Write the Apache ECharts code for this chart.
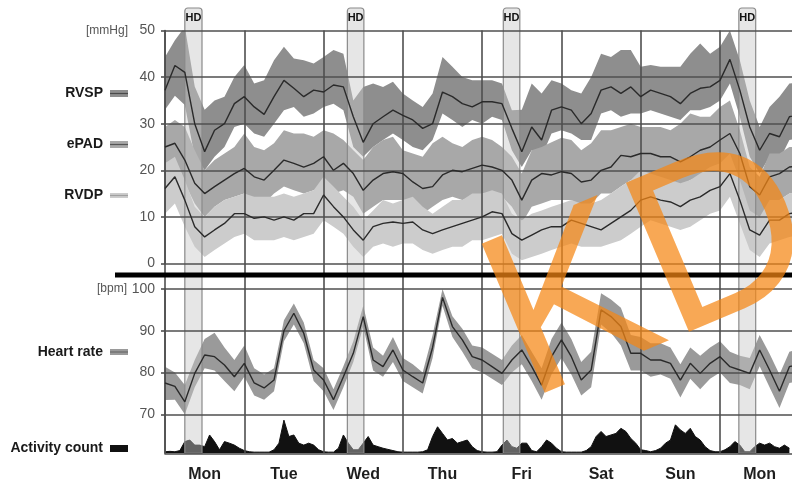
<!DOCTYPE html>
<html>
<head>
<meta charset="utf-8">
<script src="https://cdn.jsdelivr.net/npm/echarts@6.0.0/dist/echarts.min.js"></script>
<style>
  html, body { margin: 0; padding: 0; background: #fff; }
  #chart { width: 792px; height: 484px; }
</style>
</head>
<body>
<div id="chart"></div>
<script>
// Day labels along the bottom, one per 24 h column
const dayLabels = ['Mon', 'Tue', 'Wed', 'Thu', 'Fri', 'Sat', 'Sun', 'Mon'];

// Sample times (hours from Monday 00:00) for the pressure and heart-rate traces
const hours = [0,3,6,9,12,15,18,21,24,27,30,33,36,39,42,45,48,51,54,57,60,63,66,69,72,75,78,81,84,87,90,93,96,99,102,105,108,111,114,117,120,123,126,129,132,135,138,141,144,147,150,153,156,159,162,165,168,171,174,177,180,183,186,189,192];

// RV systolic pressure [mmHg]: median and band
const rvspMid  = [37.2,42.5,41,30,24,28.6,30,34.3,35.8,33.6,32,35.8,39.3,37.6,35.8,37.2,36.8,38.3,37.9,31.5,26,30,31.5,32.9,31.8,30.8,29,30,36.8,35.8,34.3,33.6,34.7,34.7,34.3,29,24,29.3,26.5,32.9,33.6,32.9,30,32.2,37.2,37.9,36.5,37.9,35.8,37.2,36.5,35.8,34.3,36.5,37.6,37.9,39.3,43.8,37.2,29.3,24.3,27.9,27.2,31.5,32];
const rvspHigh = [44.3,47.9,50.8,38,33,35,35.8,40,42.6,38.6,39.3,43.6,46.5,44,43.6,42.9,44.3,45.8,45,35,37.9,38.6,37.9,39,36.5,35,33.6,36.5,44.3,42.2,40,39.3,39.3,39.3,38.6,32.9,33,38.6,36.5,39.3,38.6,37.2,36.5,40,45,44.3,45.8,45.8,42.2,42.6,42.2,42.2,42.2,45,47.2,45,46.5,50,43.6,35,29.3,33.6,35.8,38.6,39];
const rvspLow  = [33,36,34,22.9,20,22.9,25,29.3,30,27.9,27.2,30,32.9,33.6,31.5,32.2,33.6,34.3,32.9,25,22.9,25,26.5,27.9,26.5,25,24.3,26.5,32.2,30.8,29.3,30.8,30,31.5,30.8,24.3,20.7,24.3,22.9,27.9,28.6,27.9,26.5,26.5,32.2,32.9,31.5,32.2,32.2,32.9,32.2,31.5,30.8,32.9,32.9,33.6,35,38.6,31.5,22.9,19.3,22.9,22.2,26.5,27];

// Estimated pulmonary artery diastolic pressure [mmHg]
const epadMid  = [25,25.8,22.2,17.2,15,16.5,17.9,19.3,20.4,18.6,17.9,20,22.2,21.5,20.7,21.5,22.9,20,21.5,19.3,15.7,17.9,19.3,19.7,19.3,17.5,16.1,16.5,19,20,19.7,20.4,21.1,20.7,20,17.9,13.6,17.9,19.3,19,19.7,19.3,17.5,17.9,20,20.7,23.2,22.9,23.6,23.6,22.9,22.9,21.8,22.9,24.3,25,26.5,27.9,23.6,16.5,14.7,18.6,19.3,20.7,21];
const epadHigh = [29.3,30.8,29.3,24.3,20,22.2,23.6,25,27.9,25,24.3,25.8,28.6,27.9,27.9,27.2,28.6,27.9,26.5,24.3,22.2,25,26.5,27.2,24.3,23.6,22.9,25.8,27.2,25.8,25,26.5,27.2,26.5,25,22.9,19.3,24.3,25,26,27,26.5,24.3,25.8,28.6,28.6,29.3,30,29.3,29.3,29.3,28.6,30,32.2,31.5,31.5,33.6,35,28.6,20.7,18.6,23.6,23.6,25,25];
const epadLow  = [20,21.5,17.2,12.9,10,12.2,13.6,14.3,15,13.6,12.9,15,16.5,15.7,15,15.7,16.5,15,15.7,14.3,10.7,12.2,13.6,13.6,13.6,12.2,10.7,12.2,13.6,14.3,13.6,14.3,15,15,14.3,12.2,8.6,12.2,12.9,13.6,13.6,13.6,12.2,12.9,15,15,16.5,17.9,16.5,17.9,16.5,17.2,16.5,17.9,18.6,19.3,20.7,22.2,16.5,10.7,8.6,12.9,13.6,15,15];

// RV diastolic pressure [mmHg]
const rvdpMid  = [16.1,18.6,13.6,7.9,5.7,7.2,8.6,10.7,10.7,9.7,10,9.3,10,9.3,10.7,10.7,14.7,12.2,10,7.2,5,7.9,8.6,8.9,8.6,8.9,7.2,6.4,7.2,7.9,8.6,9.3,10,11.1,10.7,6.4,5,6.1,7.2,7.9,7.9,9.3,8.6,7.9,7.2,8.6,10,11.4,13.6,14.3,13.6,13.2,12.2,13.6,14.3,15.7,16.5,19.3,13.6,7.2,6.1,9.3,9.3,10.7,11];
const rvdpHigh = [21.5,22.9,17.9,12.2,10,12.2,13.6,14.3,15,14.3,14.3,14.3,15,14.3,15,15.7,18.6,16.5,14.3,12.2,9.3,11.4,13.6,12.9,13.6,14.3,12.2,10.7,12.2,13.6,13.6,15,15,15.7,15,10.7,9.3,10.7,11.4,12.2,12.9,13.6,12.9,12.9,13.6,15,16.5,17.9,20,19.3,18.6,17.9,17.2,17.9,19.3,20.7,21.5,23.6,17.9,11.4,10,13.6,13.6,15,15];
const rvdpLow  = [10.7,12.9,7.9,3.6,1.4,2.9,4.3,5.7,6.4,5,5,5,5.7,5,5.7,6.4,9.3,7.9,6.4,3.6,1.4,3.6,4.3,3.6,4.3,4.3,2.9,2.1,2.9,3.6,3.6,5,5,5.7,6.4,2.1,0.7,1.4,2.1,2.9,3.6,4.3,3.6,3.6,3.6,4.3,5,6.4,7.9,9.3,8.6,7.9,7.2,7.9,9.3,10.7,11.4,14.3,8.6,2.9,1.4,4.3,5,5.7,6];

// Heart rate [bpm]
const hrMid  = [77.5,76.7,73,79.8,84.2,83.8,81.8,79,82.2,77.5,76.3,78.2,90,94.2,89.4,80.6,78.2,73.5,79,84.6,93.4,83,81.4,85.4,80.6,79,77.5,86,98,91,87.8,83.8,83,81.4,79.8,83,85.4,81.4,77,83.8,87.8,83.8,78.2,80.6,95,93.4,91,84.6,84.6,83,83,82.2,78.2,82.2,79.8,82.2,83.8,81.4,80.6,79.8,85.4,80.6,75.5,81.4,82];
const hrHigh = [81.4,80,77,83,88,89.5,86,83,86.5,81,79.5,81,92.5,96.5,92,83,81,76,81.5,87.5,96,86,84,88.5,83.5,82,80,89,100,93.5,90.5,86.5,86,84.5,83,86.5,89,85,81,88,92,88,82.5,85,99,97.5,95.5,89,88.5,87,87,86,82,86,84,86,87.5,85,84,83.5,89,84.5,79.5,85,85.5];
const hrLow  = [73.4,73.5,70,76.5,81,80.5,78,75.5,79,74.5,73.5,75.5,87.5,91.5,87,78,75.5,71,76.5,82.5,91,80.5,79,82.5,78,76.5,75,83.5,96,88.5,85,81,80,78.5,77,80,82,78,73.5,79.5,83.5,79.5,74.5,76.5,91.5,89.5,86.5,80.5,80.5,79,79.5,78.5,74,78.5,76,78.5,80,77.5,77,76,81.5,76.5,71.5,77.5,78];

// Activity counts, sampled every 1.5 h
const actHours = [0,1.5,3,4.5,6,7.5,9,10.5,12,13.5,15,16.5,18,19.5,21,22.5,24,25.5,27,28.5,30,31.5,33,34.5,36,37.5,39,40.5,42,43.5,45,46.5,48,49.5,51,52.5,54,55.5,57,58.5,60,61.5,63,64.5,66,67.5,69,70.5,72,73.5,75,76.5,78,79.5,81,82.5,84,85.5,87,88.5,90,91.5,93,94.5,96,97.5,99,100.5,102,103.5,105,106.5,108,109.5,111,112.5,114,115.5,117,118.5,120,121.5,123,124.5,126,127.5,129,130.5,132,133.5,135,136.5,138,139.5,141,142.5,144,145.5,147,148.5,150,151.5,153,154.5,156,157.5,159,160.5,162,163.5,165,166.5,168,169.5,171,172.5,174,175.5,177,178.5,180,181.5,183,184.5,186,187.5,189];
const activity = [4,5,4,7,30,34,21,21,17,47,30,9,30,26,21,13,7,4,3,3,3,
  3,9,26,85,43,47,26,21,26,21,9,4,3,3,13,47,26,9,9,26,43,21,17,13,10,7,4,3,3,3,3,4,9,43,68,51,34,38,26,30,34,17,7,4,3,3,4,21,34,17,13,26,
  26,7,4,17,34,26,13,4,3,3,3,3,7,17,43,56,43,47,51,64,56,38,26,9,7,4,7,13,26,34,73,60,51,64,43,34,17,7,4,4,9,17,30,21,4,4,17,26,21,26,17,13,21,13];

// Haemodialysis sessions: start / end hour
const hdStart = [6, 55.2, 102.4, 173.7];
const hdEnd   = [11.2, 60.2, 107.4, 178.8];

const FONT = "'Liberation Sans', Arial, sans-serif";
const GRID_COLOR = '#4f4f4f';
const GRID_W = 1.6;
const X_MAX = 192;

const bandColors = { rvsp: '#8e8e8e', epad: '#a8a8a8', rvdp: '#cccccc', hr: '#9a9a9a' };
const lineColor = '#2a2a2a';

function bandRenderer(lo, hi, color) {
  return function (params, api) {
    if (params.dataIndex !== 0) return null;
    const top = hours.map((h, i) => api.coord([h, hi[i]]));
    const bottom = hours.map((h, i) => api.coord([h, lo[i]])).reverse();
    return {
      type: 'polygon',
      shape: { points: top.concat(bottom) },
      style: { fill: color }
    };
  };
}

function bandSeries(idx, lo, hi, color) {
  return {
    type: 'custom',
    xAxisIndex: idx, yAxisIndex: idx,
    clip: true, z: 1, silent: true,
    encode: { x: 0, y: [1, 2] },
    data: hours.map((h, i) => [h, lo[i], hi[i]]),
    renderItem: bandRenderer(lo, hi, color)
  };
}

function medianSeries(idx, values) {
  return {
    type: 'line',
    xAxisIndex: idx, yAxisIndex: idx,
    z: 4, silent: true, symbol: 'none',
    lineStyle: { color: lineColor, width: 1.4 },
    data: hours.map((h, i) => [h, values[i]])
  };
}

const hiddenValueX = (gridIndex) => ({
  gridIndex, type: 'value', min: 0, max: X_MAX, show: false
});

const valueY = (gridIndex, min, max) => ({
  gridIndex, type: 'value', min, max, interval: 10, z: 3,
  axisLine: { show: true, lineStyle: { color: GRID_COLOR, width: GRID_W } },
  axisTick: { show: true, length: 4, lineStyle: { color: GRID_COLOR, width: GRID_W } },
  axisLabel: { fontSize: 14, color: '#555', margin: 10, fontFamily: FONT },
  splitLine: { show: true, lineStyle: { color: GRID_COLOR, width: GRID_W } }
});

// Legend entries on the left
function legendEntry(label, y, swatch, stripe, h) {
  return [
    { type: 'text', x: 103, y: y, style: { text: label, font: 'bold 14px ' + FONT, fill: '#1a1a1a', align: 'right', verticalAlign: 'middle' } },
    { type: 'rect', shape: { x: 110, y: y - h / 2, width: 18, height: h }, style: { fill: swatch } },
    { type: 'line', shape: { x1: 110, y1: y, x2: 128, y2: y }, style: { stroke: stripe, lineWidth: 1.2 } }
  ];
}

const graphics = [].concat(
  legendEntry('RVSP', 93.5, bandColors.rvsp, '#4a4a4a', 7),
  legendEntry('ePAD', 144.5, bandColors.epad, '#555', 7),
  legendEntry('RVDP', 195.5, bandColors.rvdp, '#a0a0a0', 5),
  legendEntry('Heart rate', 352, bandColors.hr, '#6a6a6a', 6),
  legendEntry('Activity count', 448.5, '#111', '#111', 7),
  [
    { type: 'text', x: 128, y: 31, style: { text: '[mmHg]', font: '12px ' + FONT, fill: '#555', align: 'right', verticalAlign: 'middle' } },
    { type: 'text', x: 127, y: 289, style: { text: '[bpm]', font: '12px ' + FONT, fill: '#555', align: 'right', verticalAlign: 'middle' } },
    { type: 'line', z: 10, shape: { x1: 115, y1: 275, x2: 792, y2: 275 }, style: { stroke: '#000', lineWidth: 5 } },
    { type: 'text', z: 100, x: 652, y: 277, rotation: 0.4,
      style: { text: 'KD', font: '235px ' + FONT, fill: 'rgba(245,135,20,0.72)', align: 'center', verticalAlign: 'middle' } }
  ]
);

const gridBase = { left: 165, width: 634.3, outerBoundsMode: 'none', containLabel: false };

const option = {
  animation: false,
  backgroundColor: '#ffffff',
  grid: [
    Object.assign({ top: 30.5, height: 233 }, gridBase),     // pressures
    Object.assign({ top: 289, height: 125.3 }, gridBase),    // heart rate
    Object.assign({ top: 414.3, height: 39 }, gridBase),     // activity
    Object.assign({ top: 30.5, height: 422.8 }, gridBase),   // day columns
    Object.assign({ top: 8, height: 445.3 }, gridBase)       // dialysis bands
  ],
  xAxis: [
    hiddenValueX(0),
    hiddenValueX(1),
    { gridIndex: 2, type: 'value', min: 0, max: X_MAX, z: 3,
      axisLine: { show: true, lineStyle: { color: GRID_COLOR, width: GRID_W } },
      axisTick: { show: false }, axisLabel: { show: false }, splitLine: { show: false } },
    { gridIndex: 3, type: 'category', data: dayLabels, boundaryGap: true, z: 3,
      axisLine: { show: false }, axisTick: { show: false },
      axisLabel: { fontSize: 16, fontWeight: 'bold', color: '#1e1e1e', margin: 13, fontFamily: FONT },
      splitLine: { show: true, interval: 0, lineStyle: { color: GRID_COLOR, width: GRID_W } } },
    hiddenValueX(4)
  ],
  yAxis: [
    valueY(0, 0, 50),
    valueY(1, 70, 100),
    { gridIndex: 2, type: 'value', min: 0, max: 100, z: 3,
      axisLine: { show: true, lineStyle: { color: GRID_COLOR, width: GRID_W } },
      axisTick: { show: false }, axisLabel: { show: false }, splitLine: { show: false } },
    { gridIndex: 3, type: 'value', min: 0, max: 1, show: false },
    { gridIndex: 4, type: 'value', min: 0, max: 1, show: false }
  ],
  series: [
    bandSeries(0, rvspLow, rvspHigh, bandColors.rvsp),
    bandSeries(0, epadLow, epadHigh, bandColors.epad),
    bandSeries(0, rvdpLow, rvdpHigh, bandColors.rvdp),
    bandSeries(1, hrLow, hrHigh, bandColors.hr),
    {
      type: 'line', xAxisIndex: 2, yAxisIndex: 2, z: 1, silent: true, symbol: 'none',
      lineStyle: { color: '#111', width: 1 },
      areaStyle: { color: '#111', opacity: 1 },
      data: actHours.map((h, i) => [h, activity[i]])
    },
    {
      type: 'custom', xAxisIndex: 4, yAxisIndex: 4, z: 2, silent: true,
      encode: { x: [0, 1] },
      data: hdStart.map((s, i) => [s, hdEnd[i]]),
      renderItem: function (params, api) {
        const a = api.coord([api.value(0), 1]);
        const b = api.coord([api.value(1), 0]);
        return {
          type: 'group',
          children: [
            { type: 'rect',
              shape: { x: a[0], y: a[1], width: b[0] - a[0], height: b[1] - a[1], r: [3, 3, 0, 0] },
              style: { fill: 'rgba(200,200,200,0.45)', stroke: '#8a8a8a', lineWidth: 1.2 } },
            { type: 'text',
              style: { text: 'HD', x: (a[0] + b[0]) / 2, y: a[1] + 10, align: 'center', verticalAlign: 'middle',
                       font: 'bold 11px ' + FONT, fill: '#111' } }
          ]
        };
      }
    },
    medianSeries(0, rvspMid),
    medianSeries(0, epadMid),
    medianSeries(0, rvdpMid),
    medianSeries(1, hrMid)
  ],
  graphic: graphics
};

const chart = echarts.init(document.getElementById('chart'), null, { renderer: 'canvas' });
chart.setOption(option);
</script>
</body>
</html>
